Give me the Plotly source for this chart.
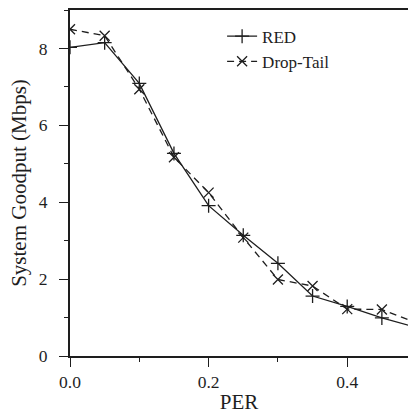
import plotly.graph_objects as go

per = [0.0, 0.05, 0.10, 0.15, 0.20, 0.25, 0.30, 0.35, 0.40, 0.45, 0.50]
red = [8.03, 8.15, 7.09, 5.27, 3.91, 3.14, 2.41, 1.56, 1.29, 0.99, 0.74]
droptail = [8.50, 8.33, 6.94, 5.17, 4.25, 3.08, 1.99, 1.82, 1.22, 1.21, 0.86]

x_ticks = [0.0, 0.2, 0.4]
x_labels = ["0.0", "0.2", "0.4"]
y_ticks = [0, 2, 4, 6, 8]

font_family = "Liberation Serif"
ink = "#1e1e1e"

fig = go.Figure()
fig.add_trace(go.Scatter(
    x=per, y=red, name="RED", mode="lines+markers",
    line=dict(color=ink, width=1.3),
    marker=dict(symbol="cross-thin", size=10, line=dict(color=ink, width=1.3)),
))
fig.add_trace(go.Scatter(
    x=per, y=droptail, name="Drop-Tail", mode="lines+markers",
    line=dict(color=ink, width=1.3, dash="7px,5px"),
    marker=dict(symbol="x-thin", size=10, line=dict(color=ink, width=1.3)),
))

fig.update_layout(
    width=408, height=414,
    margin=dict(l=70, r=0, t=10, b=58),
    paper_bgcolor="white", plot_bgcolor="white",
    font=dict(family=font_family, color=ink, size=17),
    showlegend=True,
    legend=dict(x=0.45, y=0.975, xanchor="left", yanchor="top",
                bgcolor="rgba(0,0,0,0)", font=dict(size=17, family=font_family, color=ink),
                tracegroupgap=0, itemwidth=30),
    xaxis=dict(
        range=[0, 0.4877], showgrid=False, zeroline=False,
        showline=True, linecolor=ink, linewidth=2, mirror=True,
        ticks="outside", ticklen=9, tickwidth=1.3, tickcolor=ink,
        tickvals=x_ticks, ticktext=x_labels,
        minor=dict(dtick=0.1, tick0=0, ticks="outside", ticklen=4, tickwidth=1.3, tickcolor=ink),
        title=dict(text="PER", font=dict(size=21), standoff=5),
        tickfont=dict(size=17.5),
        ticklabelstandoff=0,
    ),
    yaxis=dict(
        range=[0, 9], showgrid=False, zeroline=False,
        showline=True, linecolor=ink, linewidth=2,
        ticks="outside", ticklen=9, tickwidth=1.3, tickcolor=ink,
        tickvals=y_ticks,
        minor=dict(dtick=1, tick0=0, ticks="outside", ticklen=4, tickwidth=1.3, tickcolor=ink),
        title=dict(text="System Goodput (Mbps)", font=dict(size=21), standoff=6),
        tickfont=dict(size=17.5),
        ticklabelstandoff=8,
    ),
)

fig.write_html("out.html")
